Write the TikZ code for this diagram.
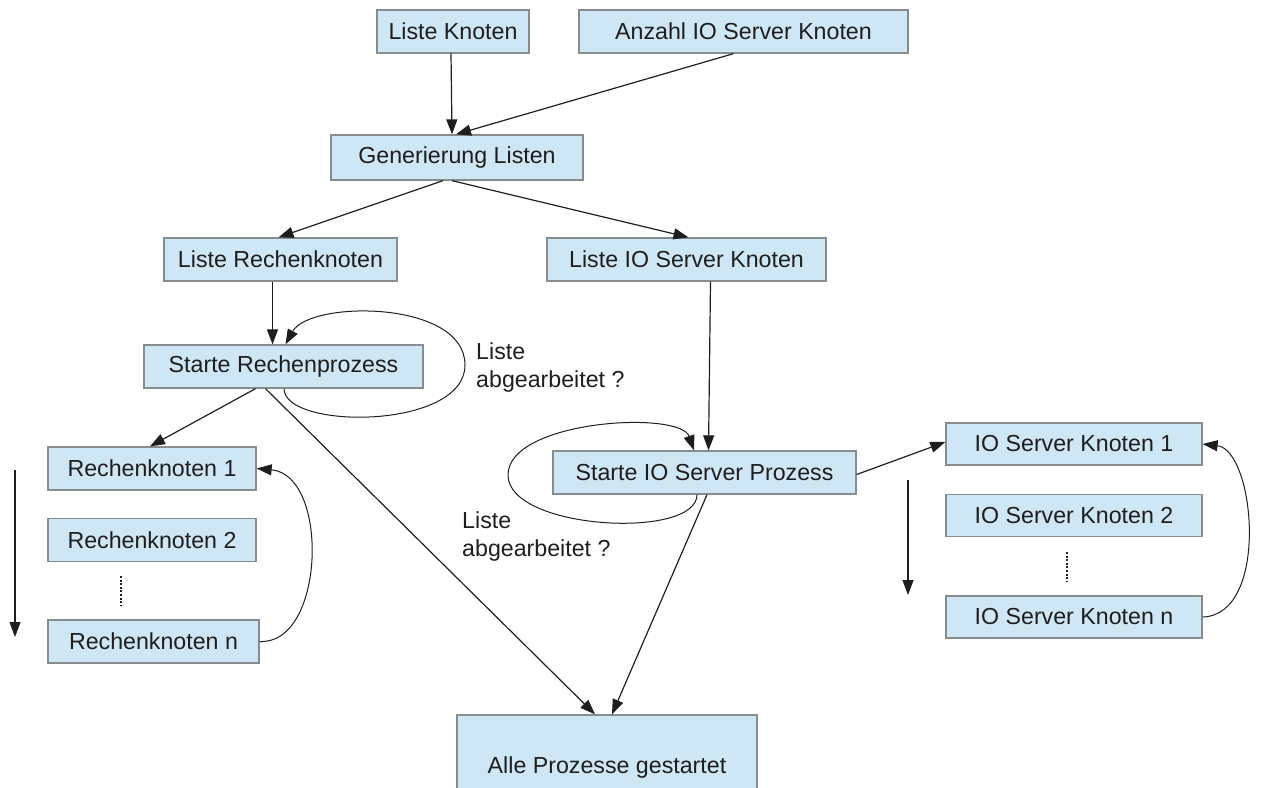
\documentclass[tikz,border=0pt]{standalone}
\usepackage{fontspec}
\setmainfont{Liberation Sans}
\usetikzlibrary{arrows.meta}
\definecolor{boxfill}{RGB}{207,231,245}
\definecolor{boxline}{RGB}{135,140,145}
\definecolor{ink}{RGB}{30,30,30}
\begin{document}
\begin{tikzpicture}[x=1pt,y=-1pt,
  box/.style={draw=boxline,fill=boxfill,line width=1.3pt,inner sep=0pt,
    minimum height=43pt,text=ink,font=\fontsize{23.2}{28}\selectfont},
  conn/.style={draw=ink,line width=1.2pt,-{Triangle[length=15pt,width=11pt]}},
  loopconn/.style={draw=ink,line width=1pt,-{Triangle[length=15pt,width=11pt]}},
  note/.style={anchor=west,inner sep=0pt,align=left,text=ink,
    font=\fontsize{23.2}{28}\selectfont},
  dots/.style={draw=ink,line width=1.6pt,dash pattern=on 2pt off 1.6pt}]
\useasboundingbox (0,0) rectangle (1271,787);

% boxes
\node[box,minimum width=152pt] (lk)   at (453,31.5)   {Liste Knoten};
\node[box,minimum width=329pt] (anz)  at (743.5,31.5) {Anzahl IO Server Knoten};
\node[box,minimum width=252pt,minimum height=45pt] (gen) at (457,157.5) {Generierung Listen};
\node[box,minimum width=233pt] (lr)   at (280.5,259.5) {Liste Rechenknoten};
\node[box,minimum width=279pt] (lio)  at (686.5,259.5) {Liste IO Server Knoten};
\node[box,minimum width=279pt] (sr)   at (283.5,366.5) {Starte Rechenprozess};
\node[box,minimum width=303pt] (sio)  at (704.5,472.5) {Starte IO Server Prozess};
\node[box,minimum width=208pt] (r1)   at (152,468.5)   {Rechenknoten 1};
\node[box,minimum width=208pt] (r2)   at (152,540)     {Rechenknoten 2};
\node[box,minimum width=211pt] (rn)   at (153.5,641.5) {Rechenknoten n};
\node[box,minimum width=256pt,minimum height=42pt] (io1) at (1074,444)   {IO Server Knoten 1};
\node[box,minimum width=256pt,minimum height=42pt] (io2) at (1074,515.5) {IO Server Knoten 2};
\node[box,minimum width=256pt,minimum height=42pt] (ion) at (1074,617)   {IO Server Knoten n};
\node[box,minimum width=300pt,minimum height=104pt] (alle) at (607,767) {Alle Prozesse gestartet};

% loop labels
\node[note] (q1) at (476,367) {Liste\\abgearbeitet ?};
\node[note] (q2) at (462,536) {Liste\\abgearbeitet ?};

% connectors
\draw[conn] ([xshift=-2pt]lk.south) -- ([xshift=-5pt]gen.north);
\draw[conn] ([xshift=-10pt]anz.south) -- ([xshift=-1pt]gen.north);
\draw[conn] ([xshift=-14pt]gen.south) -- ([xshift=-2pt]lr.north);
\draw[conn] ([xshift=-5pt]gen.south) -- ([xshift=2pt]lio.north);
\draw[conn] ([xshift=-8pt]lr.south) -- ([xshift=-11pt]sr.north);
\draw[conn] ([xshift=-28pt]sr.south) -- ([xshift=-2pt]r1.north);
\draw[conn] ([xshift=-18pt]sr.south) -- ([xshift=-12pt]alle.north);
\draw[conn] ([xshift=24pt]lio.south) -- ([xshift=4pt]sio.north);
\draw[conn] ([xshift=2.5pt]sio.south) -- ([xshift=5pt]alle.north);
\draw[conn] ([yshift=-2pt]sio.east) -- ([yshift=2pt]io1.west);

% repeat loops
\draw[loopconn] ([xshift=0.5pt]sr.south) .. controls (284,430) and (465,430) .. (465,365)
  .. controls (465,300) and (310,300) .. ([xshift=2pt]sr.north);
\draw[loopconn] ([xshift=-7.5pt]sio.south) .. controls (697,540) and (508,530) .. (508,475)
  .. controls (508,420) and (680,410) .. ([xshift=-10.5pt]sio.north);
\draw[loopconn] (rn.east) .. controls (325,645) and (330,475) .. (r1.east);
\draw[loopconn] (ion.east) .. controls (1270,615) and (1255,450) .. (io1.east);

% order arrows beside the node lists
\coordinate (ra) at (15,470);
\coordinate (rb) at (15,637);
\coordinate (ia) at (908,480);
\coordinate (ib) at (908,595);
\draw[conn] (ra) -- (rb);
\draw[conn] (ia) -- (ib);

% ellipses between the list entries
\coordinate (rd1) at (121,576);
\coordinate (rd2) at (121,605);
\coordinate (id1) at (1067,552);
\coordinate (id2) at (1067,582);
\draw[dots] (rd1) -- (rd2);
\draw[dots] (id1) -- (id2);
\end{tikzpicture}
\end{document}
